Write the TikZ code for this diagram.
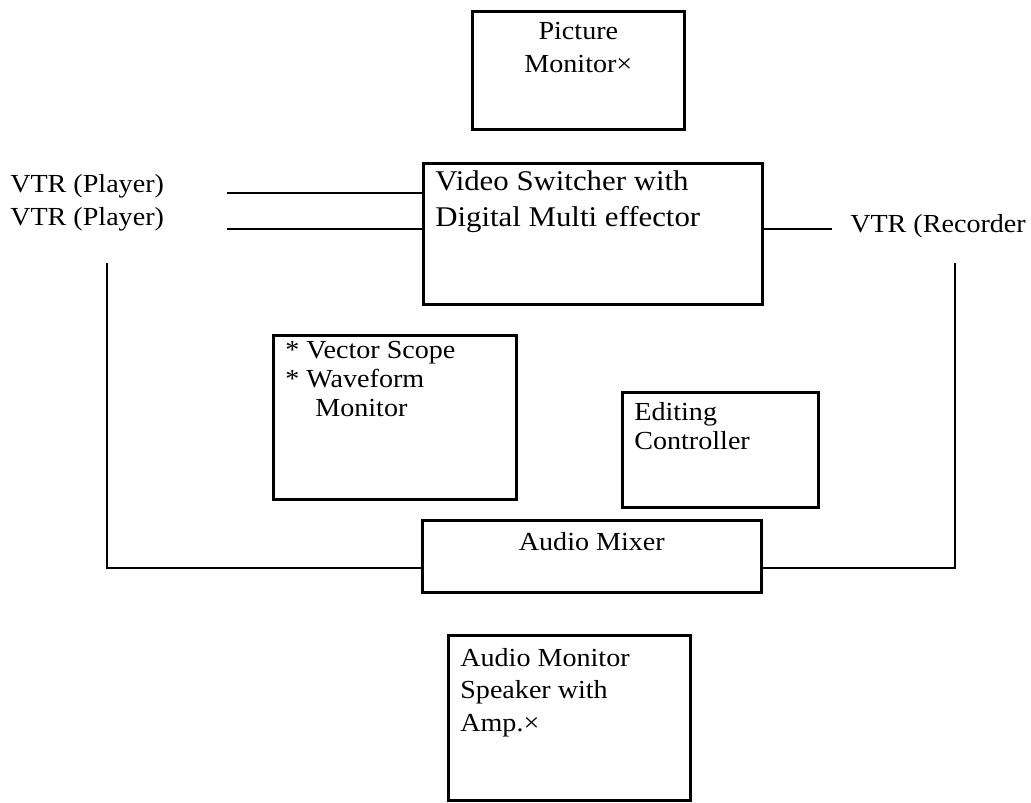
\documentclass[tikz,border=0pt]{standalone}
\usepackage{fontspec}
\setmainfont[FakeStretch=1.08]{Liberation Serif}
\newlength\pxu
\setlength\pxu{0.025cm}
\newcommand{\mainsz}{\fontsize{18.5}{23.4}\selectfont}
% [size], width, height, baselineskip, first baseline, text
\newcommand{\boxtext}[6][18.5]{\parbox[c][#3\pxu][t]{#2\pxu}{\fontsize{#1}{#4\pxu}\selectfont\rule{0pt}{#5\pxu}#6}}
\tikzset{
	unit/.style={draw, line width=1.9pt, anchor=north west, inner xsep=12\pxu, inner ysep=0pt, font=\mainsz},
	tag/.style={anchor=base west, inner sep=0pt, font=\mainsz},
	wire/.style={line width=1.9pt}
}
\begin{document}
\begin{tikzpicture}[x=0.025cm, y=-0.025cm]
	\useasboundingbox (0,0) rectangle (1031,802);

	% boxes
	\node[unit] (pic) at (471,10){\boxtext{188}{118}{33}{28}{\centering Picture\\Monitor×}};
	\node[unit] (vsw) at (422,162){\boxtext[20.3]{315}{141}{36}{27}{\raggedright Video Switcher with\\Digital Multi effector}};
	\node[unit] (vec) at (272,334){\boxtext{219}{164}{29}{23}{\raggedright * Vector Scope\\{}* Waveform\\\hspace*{30\pxu}Monitor}};
	\node[unit] (edt) at (621,391){\boxtext{172}{115}{29}{28}{\raggedright Editing\\Controller}};
	\node[unit] (mix) at (421,519){\boxtext{315}{72}{33}{30}{\centering Audio Mixer}};
	\node[unit] (amon) at (447,634){\boxtext{218}{165}{32.5}{31}{\raggedright Audio Monitor\\Speaker with\\Amp.×}};

	% VTRs
	\node[tag] (ply1) at (10,192){VTR (Player)};
	\node[tag] (ply2) at (10,225){VTR (Player)};
	\node[tag] (rec) at (850,232){VTR (Recorder};

	% free ends
	\coordinate (p1) at (227,193);
	\coordinate (p2) at (227,229);
	\coordinate (q) at (832,229);
	\coordinate (l1) at (107,263);
	\coordinate (r1) at (955,263);
	\coordinate (ml) at (0,568);

	\draw[wire](p1) to (p1 -| vsw.west);
	\draw[wire](p2) to (p2 -| vsw.west);
	\draw[wire](q -| vsw.east) to (q);
	\draw[wire](l1) |- (ml -| mix.west);
	\draw[wire](r1) |- (ml -| mix.east);
\end{tikzpicture}
\end{document}
